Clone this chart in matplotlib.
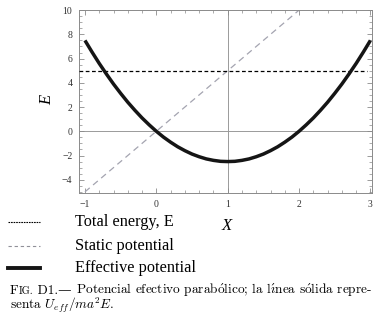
import matplotlib
matplotlib.use("Agg")
import matplotlib.pyplot as plt
from matplotlib.lines import Line2D
from matplotlib.ticker import MultipleLocator

# values
x_eff = [-1.0, -0.9, -0.8, -0.7, -0.6, -0.5, -0.4, -0.3, -0.2, -0.1,
         0.0, 0.1, 0.2, 0.3, 0.4, 0.5, 0.6, 0.7, 0.8, 0.9,
         1.0, 1.1, 1.2, 1.3, 1.4, 1.5, 1.6, 1.7, 1.8, 1.9,
         2.0, 2.1, 2.2, 2.3, 2.4, 2.5, 2.6, 2.7, 2.8, 2.9, 3.0]
u_eff = [7.5, 6.53, 5.6, 4.73, 3.9, 3.13, 2.4, 1.73, 1.1, 0.53,
         0.0, -0.48, -0.9, -1.28, -1.6, -1.88, -2.1, -2.28, -2.4, -2.48,
         -2.5, -2.48, -2.4, -2.28, -2.1, -1.88, -1.6, -1.28, -0.9, -0.48,
         0.0, 0.53, 1.1, 1.73, 2.4, 3.13, 3.9, 4.73, 5.6, 6.53, 7.5]
x_static = [-1.0, 2.0]
u_static = [-5.0, 10.0]
x_energy = [-1.08, 2.95]
e_total = [5.0, 5.0]

legend_labels = ["Total energy, E", "Static potential", "Effective potential"]
# caption pieces: (text, size factor); accents through mathtext so they
# come from the same cm fonts
caption_1 = [("F", 1.0), ("IG.", 0.78), (" D1.\u2014", 1.0),
             (r" Potencial efectivo parab$\acute{\mathrm{o}}$lico; "
              r"la l$\acute{\imath}$nea s$\acute{\mathrm{o}}$lida repre-", 1.0)]
caption_2 = r"senta $U_{eff}/ma^2E$."

plt.rcParams["font.family"] = ["Liberation Serif", "DejaVu Serif"]
plt.rcParams["mathtext.fontset"] = "cm"

fig = plt.figure(figsize=(3.81, 3.16), dpi=100)
ax = fig.add_axes([0.208, 0.389, 0.768, 0.579])

frame_col = "#8a8a8a"
ax.axvline(1, color="#9a9a9a", lw=0.7, zorder=1)
ax.axhline(0, color="#9a9a9a", lw=0.7, zorder=1)
ax.plot(x_static, u_static, color="#a4a4b0", lw=0.9, dashes=(5, 3.5), zorder=2)
ax.plot(x_energy, e_total, color="black", lw=0.9, dashes=(3, 2), zorder=3)
ax.plot(x_eff, u_eff, color="#151515", lw=2.5, solid_capstyle="butt", zorder=4)

ax.set_xlim(-1.08, 3.02)
ax.set_ylim(-5.1, 10)
ax.xaxis.set_major_locator(MultipleLocator(1))
ax.xaxis.set_minor_locator(MultipleLocator(0.2))
ax.yaxis.set_major_locator(MultipleLocator(2))
ax.yaxis.set_minor_locator(MultipleLocator(0.5))
ax.tick_params(which="both", direction="in", top=True, right=True,
               color=frame_col, labelsize=7, labelcolor="#333333", pad=5)
ax.tick_params(which="major", length=3.5, width=0.6)
ax.tick_params(which="minor", length=2, width=0.5)
for s in ax.spines.values():
    s.set_color(frame_col)
    s.set_linewidth(0.7)

fig.text(47 / 381, 1 - 100 / 316, "E", style="italic", fontsize=12,
         rotation=90, ha="center", va="center")
fig.text(227 / 381, 1 - 226 / 316, "X", style="italic", fontsize=12,
         ha="center", va="center")

# legend drawn below the axes
rows_y = [222, 246, 268]
styles = [dict(color="black", lw=0.8, dashes=(1.5, 0.8)),
          dict(color="#909098", lw=0.8, dashes=(3, 2.5)),
          dict(color="#151515", lw=2.8)]
for yy, lab, st in zip(rows_y, legend_labels, styles):
    yf = 1 - yy / 316
    fig.add_artist(Line2D([8 / 381, 40 / 381], [yf, yf],
                          transform=fig.transFigure, **st))
    fig.text(75 / 381, yf, lab, fontsize=11.7, ha="left", va="center")

# caption, first line built from pieces placed one after another
cap_font = dict(family=["cmr10", "DejaVu Serif"], va="baseline", ha="left")
cap_size = 9.6
cap_y = 1 - 294 / 316
r = fig.canvas.get_renderer()
x_next = 10 / 381
for txt, f in caption_1:
    t = fig.text(x_next, cap_y, txt, fontsize=cap_size * f, **cap_font)
    x_next = t.get_window_extent(r).x1 / fig.bbox.width
fig.text(10 / 381, 1 - 309 / 316, caption_2, fontsize=cap_size, **cap_font)

fig.savefig("out.png", dpi=100)
